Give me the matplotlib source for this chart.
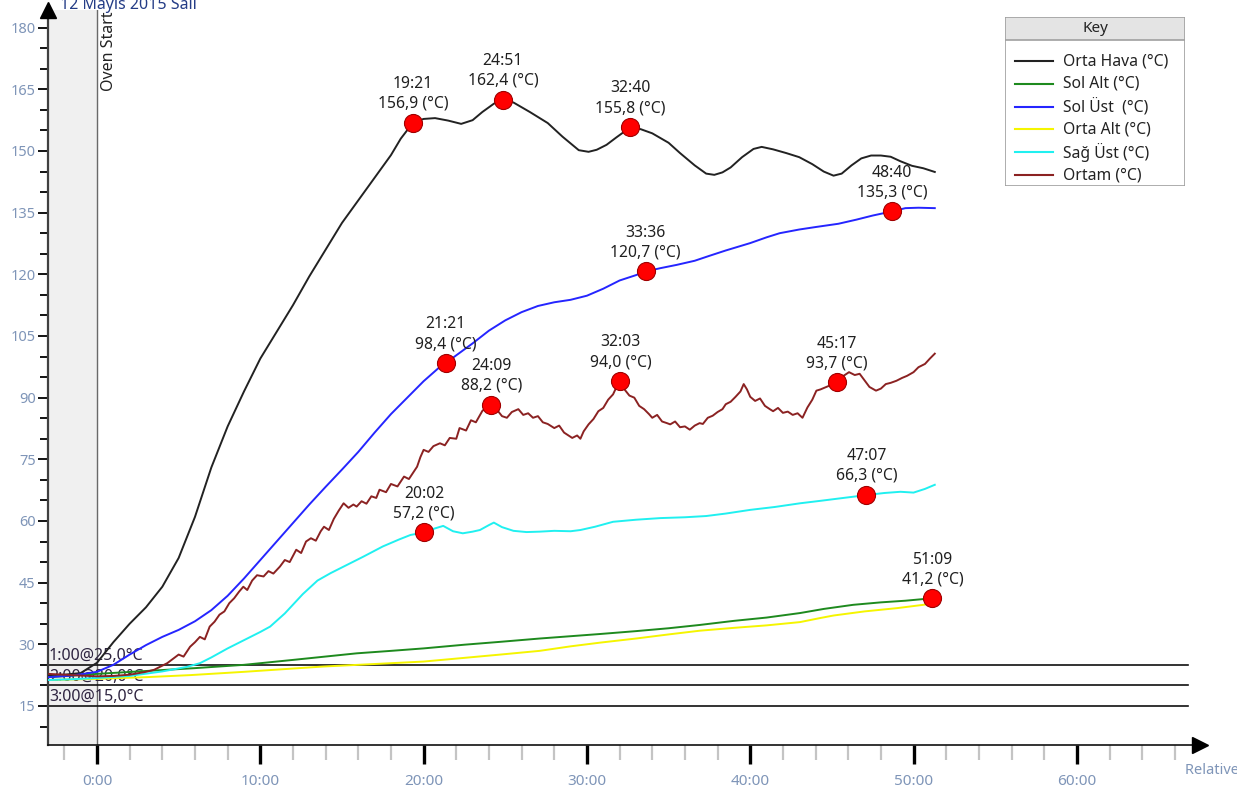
import matplotlib
matplotlib.use("Agg")
import matplotlib.pyplot as plt
from matplotlib.patches import Rectangle
from matplotlib.ticker import MultipleLocator, FixedLocator

plt.rcParams['font.family'] = ['Noto Sans', 'DejaVu Sans']

# time in minutes relative to oven start, temperatures in degC
orta_hava_t = [-3, -2, -1, 0, 1, 2, 3, 4, 5, 6, 7, 8, 9, 10, 11, 12, 13, 14, 15, 16, 17, 18, 18.6,
               19.35, 20, 20.7, 21.5, 22.3, 23, 23.6, 24.3, 24.85, 25.5, 26.5, 27.6, 28.5, 29.5, 30.1,
               30.6, 31.2, 31.8, 32.67, 33.3, 34, 35, 35.7, 36.6, 37.3, 37.8, 38.3, 38.8, 39.5, 40.2,
               40.7, 41.4, 42.2, 43, 43.8, 44.5, 45.1, 45.6, 46.2, 46.8, 47.4, 48, 48.6, 49.2, 49.9,
               50.6, 51.3]
orta_hava = [22.5, 22.6, 23.0, 25.5, 30.5, 35, 39, 44, 51, 61, 73, 83, 91.5, 99.5, 106, 112.5, 119.5,
             126, 132.5, 138, 143.5, 149, 153, 156.9, 157.8, 158, 157.4, 156.6, 157.5, 159.5, 161.5,
             162.4, 161.8, 159.5, 156.8, 153.5, 150.2, 149.8, 150.3, 151.5, 153.3, 155.8, 155.3,
             154.3, 152, 149.5, 146.5, 144.5, 144.2, 144.8, 146, 148.5, 150.5, 151, 150.4, 149.5,
             148.5, 146.8, 145, 144.0, 144.5, 146.5, 148.2, 148.9, 148.9, 148.6, 147.5, 146.4,
             145.8, 144.9]

sol_ust_t = [-3, -1.5, 0, 1, 2, 3, 4, 5, 6, 7, 8, 9, 10, 11, 12, 13, 14, 15, 16, 17, 18, 19, 20, 21,
             21.35, 22, 23, 24, 25, 26, 27, 28, 29, 30, 31, 32, 33, 33.6, 34.5, 35.5, 36.6, 37.5,
             38.5, 40, 41, 41.8, 43, 44, 45.4, 46.5, 47.5, 48.67, 49.5, 50.3, 51.3]
sol_ust = [22.0, 22.4, 23.3, 25, 27.5, 29.8, 31.8, 33.5, 35.6, 38.3, 41.8, 46, 50.5, 55, 59.5, 64,
           68.3, 72.5, 76.8, 81.5, 86, 90, 94, 97.5, 98.4, 100.3, 103.2, 106.3, 108.8, 110.8, 112.3,
           113.2, 113.8, 114.8, 116.5, 118.5, 119.8, 120.7, 121.5, 122.3, 123.3, 124.5, 125.8,
           127.6, 129, 130, 130.9, 131.5, 132.3, 133.3, 134.3, 135.3, 136.1, 136.2, 136.1]

sag_ust_t = [-3, -1.5, 0, 2, 4, 5.5, 6.3, 7, 8, 9, 10, 10.6, 11.5, 12.6, 13.5, 14.3, 15.1, 16.3, 17.5,
             18.5, 19.2, 20.03, 20.7, 21.2, 21.8, 22.4, 23, 23.45, 24, 24.3, 24.8, 25.5, 26.3, 27.1,
             28, 29, 29.6, 30.5, 31.6, 33, 34.5, 36, 37.3, 38.5, 40, 41.5, 43.05, 44.3, 45.5, 47.12,
             48.2, 49.2, 50, 50.7, 51.3]
sag_ust = [21.3, 21.5, 21.8, 22.3, 23.4, 24.5, 25.4, 26.8, 29, 31, 33, 34.3, 37.5, 42.2, 45.5, 47.3,
           48.9, 51.3, 53.8, 55.5, 56.6, 57.2, 58.2, 58.8, 57.5, 57.0, 57.4, 57.8, 59, 59.6, 58.5,
           57.6, 57.3, 57.4, 57.6, 57.5, 57.8, 58.6, 59.8, 60.3, 60.7, 60.9, 61.2, 61.8, 62.7, 63.4,
           64.3, 64.9, 65.5, 66.3, 66.8, 67.1, 66.9, 67.8, 68.8]

sol_alt_t = [-3, 0, 3, 6, 9, 12, 15.9, 18, 20, 22.5, 24.7, 27.1, 30.8, 33, 35, 36.9, 39, 41, 43.05,
             44.5, 46.3, 48, 49.5, 51.15]
sol_alt = [22.0, 22.8, 23.5, 24.2, 25.0, 26.2, 27.8, 28.4, 29.0, 29.9, 30.6, 31.4, 32.5, 33.2, 33.9,
           34.7, 35.7, 36.5, 37.6, 38.6, 39.6, 40.2, 40.6, 41.2]

orta_alt_t = [-3, 0, 3, 5.7, 9, 12, 13.9, 17, 20, 22.5, 24.7, 27.1, 29, 30.8, 33, 35, 36.9, 39, 41,
              43.05, 44.3, 45.1, 47, 49, 50.6, 51.2]
orta_alt = [21.3, 21.6, 22.0, 22.5, 23.3, 24.1, 24.6, 25.2, 25.8, 26.7, 27.5, 28.4, 29.5, 30.4,
            31.4, 32.4, 33.3, 34.0, 34.6, 35.4, 36.4, 37.0, 38.0, 38.8, 39.6, 40.0]

ortam_t = [-3, -2, -1, 0, 1, 2, 3, 3.5, 4, 4.3, 4.6, 5, 5.3, 5.7, 6.0, 6.3, 6.6, 6.9, 7.2, 7.5, 7.8,
           8.1, 8.4, 8.7, 8.96, 9.2, 9.5, 9.8, 10.2, 10.5, 10.8, 11.2, 11.5, 11.8, 12.2, 12.5, 12.8,
           13.1, 13.4, 13.7, 13.9, 14.2, 14.5, 14.8, 15.1, 15.4, 15.7, 15.9, 16.2, 16.5, 16.8, 17.1,
           17.3, 17.7, 18.0, 18.4, 18.8, 19.1, 19.4, 19.6, 19.8, 20.0, 20.3, 20.6, 21.0, 21.3, 21.6,
           22.0, 22.2, 22.6, 22.9, 23.2, 23.6, 23.9, 24.15, 24.5, 24.8, 25.1, 25.4, 25.8, 26.1, 26.4,
           26.7, 27.0, 27.3, 27.6, 28.0, 28.3, 28.6, 29.1, 29.4, 29.6, 29.8, 30.1, 30.4, 30.7, 31.0,
           31.3, 31.6, 31.8, 32.05, 32.3, 32.6, 32.9, 33.2, 33.5, 33.8, 34.0, 34.3, 34.6, 34.9, 35.1,
           35.4, 35.7, 36.0, 36.3, 36.6, 36.9, 37.1, 37.4, 37.7, 38.0, 38.3, 38.5, 38.8, 39.1, 39.4,
           39.6, 39.8, 40.0, 40.3, 40.6, 40.9, 41.2, 41.4, 41.7, 42.0, 42.3, 42.6, 42.9, 43.2, 43.5,
           43.8, 44.05, 44.3, 44.6, 44.9, 45.28, 45.6, 46.05, 46.4, 46.7, 47.0, 47.3, 47.7, 48.0,
           48.3, 48.6, 48.95, 49.3, 49.6, 50.0, 50.3, 50.7, 51.0, 51.3]
ortam = [22.8, 22.6, 22.4, 22.2, 22.3, 22.6, 23.3, 23.8, 24.8, 25.4, 26.3, 27.5, 27.0, 29.4, 30.5,
         31.8, 31.2, 34.3, 35.5, 37.2, 38.0, 40.0, 41.2, 42.8, 44, 43.2, 45.5, 46.8, 46.5, 47.8, 47.2,
         48.9, 50.5, 50.0, 53, 52.2, 55, 55.8, 55.2, 57.5, 58.6, 57.8, 60.5, 62.5, 64.3, 63.2, 64.0,
         63.5, 64.8, 64.2, 66.0, 65.6, 67.6, 67.0, 69.0, 68.4, 70.8, 70.2, 72.0, 73.2, 75.5, 77.3,
         76.8, 78.2, 78.9, 78.4, 80.2, 80.0, 82.6, 82.0, 84.5, 84.0, 86.8, 87.8, 88.2, 87.0, 85.5,
         85.1, 86.5, 87.2, 85.8, 86.2, 85.1, 85.5, 84.0, 83.6, 82.6, 83.2, 81.5, 80.2, 80.8, 80.0,
         81.8, 83.5, 84.8, 86.7, 87.5, 89.5, 90.8, 92.5, 94.0, 92.0, 90.5, 90.0, 88.0, 87.2, 86.0,
         85.1, 85.8, 84.2, 83.8, 83.5, 84.2, 82.8, 83.0, 82.2, 83.2, 83.8, 83.6, 85.1, 85.6, 86.5,
         87.2, 88.4, 89.0, 90.2, 91.5, 93.3, 92.0, 90.2, 89.2, 89.8, 88.0, 87.2, 86.7, 87.5, 86.3,
         86.6, 85.8, 86.2, 85.1, 87.6, 89.5, 91.7, 92.0, 92.5, 93.0, 93.7, 95.0, 96.2, 95.5, 95.8,
         94.2, 92.6, 91.7, 92.2, 93.3, 93.6, 94.1, 94.8, 95.3, 96.2, 97.4, 98.2, 99.5, 100.7]

series_names = ['Orta Hava (°C)', 'Sol Alt (°C)', 'Sol Üst  (°C)', 'Orta Alt (°C)',
                'Sağ Üst (°C)', 'Ortam (°C)']
series_colors = ['#222222', '#1e8a1e', '#2525ff', '#f5f500', '#20f0f0', '#8b2222']

# labelled points (mm:ss, degC)
marker_times = ['19:21', '24:51', '32:40', '21:21', '33:36', '48:40', '24:09', '32:03', '45:17',
                '20:02', '47:07', '51:09']
marker_vals = [156.9, 162.4, 155.8, 98.4, 120.7, 135.3, 88.2, 94.0, 93.7, 57.2, 66.3, 41.2]

# alarm levels
alarm_labels = ['1:00@25,0°C', '2:00@20,0°C', '3:00@15,0°C']
alarm_vals = [25.0, 20.0, 15.0]

x_ticks = [0, 10, 20, 30, 40, 50, 60]
x_ticklabels = ['0:00', '10:00', '20:00', '30:00', '40:00', '50:00', '60:00']

tick_color = '#7f95b8'

fig = plt.figure(figsize=(12.37, 7.97), dpi=100)
ax = fig.add_axes([48 / 1237, 52 / 797, 1152 / 1237, 735 / 797])
ax.set_xlim(-3.0, 67.54)
ax.set_ylim(5.5, 184.3)

# pre-start band
ax.axvspan(-3, 0, color='#f0f0f0', zorder=0)
ax.axvline(0, color='#6a6a6a', lw=1.0, zorder=1)
ax.text(0.25, 184.0, 'Oven Start', rotation=90, va='top', ha='left', fontsize=11.5,
        color='#222222', clip_on=False)

for lab, v in zip(alarm_labels, alarm_vals):
    ax.axhline(v, xmax=0.99, color='#111111', lw=1.2, zorder=2)
    ax.text(-2.95, v + 0.2, lab, fontsize=11.5, color='#2e2440', va='bottom', ha='left', zorder=3)

all_t = [orta_hava_t, sol_alt_t, sol_ust_t, orta_alt_t, sag_ust_t, ortam_t]
all_v = [orta_hava, sol_alt, sol_ust, orta_alt, sag_ust, ortam]
for tt, vv, c in zip(all_t, all_v, series_colors):
    ax.plot(tt, vv, color=c, lw=1.4, zorder=4)

for lab, v in zip(marker_times, marker_vals):
    mm, ss = lab.split(':')
    t = int(mm) + int(ss) / 60
    ax.plot(t, v, 'o', ms=13, color='#ff0000', mec='#a00000', mew=0.8, zorder=6)
    ax.annotate(lab + '\n' + f'{v:.1f}'.replace('.', ',') + ' (°C)', (t, v),
                xytext=(0, 8), textcoords='offset points', ha='center', va='bottom',
                fontsize=11.3, color='#202020', linespacing=1.3, zorder=7)

# axes styling
for s in ['top', 'right']:
    ax.spines[s].set_visible(False)
ax.spines['left'].set_color('#404040')
ax.spines['left'].set_linewidth(1.6)
ax.spines['bottom'].set_color('#111111')
ax.spines['bottom'].set_linewidth(1.2)
ax.plot(0, 1, '^', transform=ax.transAxes, color='black', ms=11, clip_on=False, zorder=8)
ax.plot(1, 0, '>', transform=ax.transAxes, color='black', ms=11, clip_on=False, zorder=8)

ax.set_xticks(x_ticks)
ax.set_xticklabels(x_ticklabels)
ax.xaxis.set_minor_locator(FixedLocator([m for m in range(-2, 67, 2) if m % 10 != 0]))
ax.tick_params(axis='x', which='major', length=14, width=2.4, color='black', pad=7,
               labelsize=11, labelcolor=tick_color)
ax.tick_params(axis='x', which='minor', length=11, width=1.6, color='#c4c4c4')

ax.yaxis.set_minor_locator(MultipleLocator(5))
ax.set_yticks(list(range(15, 181, 15)))
ax.tick_params(axis='y', which='major', length=7, width=1.3, color='black', pad=2,
               labelsize=10.5, labelcolor=tick_color)
ax.tick_params(axis='y', which='minor', length=6, width=1.3, color='black')

fig.text(60 / 1237, 1 - 9 / 797, '12 Mayıs 2015 Salı', fontsize=11.5, color='#243c86',
         va='baseline', ha='left')
fig.text(1185 / 1237, 1 - 771 / 797, 'Relative Time', fontsize=10.5, color=tick_color,
         va='center', ha='left')

# key box
kax = fig.add_axes([1005 / 1237, (797 - 186) / 797, 180 / 1237, 169 / 797])
kax.set_xlim(0, 180)
kax.set_ylim(169, 0)
kax.axis('off')
kax.add_patch(Rectangle((0, 0), 180, 169, facecolor='white', edgecolor='#a0a0a0', lw=1.2))
kax.add_patch(Rectangle((0, 0), 180, 23, facecolor='#e4e4e4', edgecolor='#a0a0a0', lw=1.2))
kax.text(90, 12, 'Key', ha='center', va='center', fontsize=11, color='#222222')
for i, (name, c) in enumerate(zip(series_names, series_colors)):
    yy = 44 + i * 22.8
    kax.plot([10, 48], [yy, yy], color=c, lw=1.5)
    kax.text(58, yy, name, va='center', ha='left', fontsize=11.3, color='#222222')

fig.savefig('out.png', dpi=100)
